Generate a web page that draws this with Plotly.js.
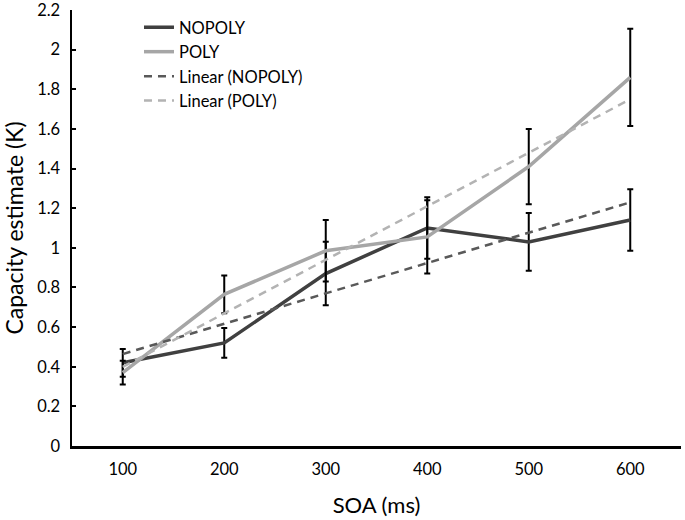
<!DOCTYPE html>
<html>
<head>
<meta charset="utf-8">
<script src="https://cdn.plot.ly/plotly-3.0.1.min.js"></script>
<style>html,body{margin:0;padding:0;background:#fff;}#chart{width:685px;height:520px;}</style>
</head>
<body>
<div id="chart"></div>
<script>
const categories = ['100', '200', '300', '400', '500', '600'];
const nopoly = [0.42, 0.52, 0.87, 1.10, 1.03, 1.14];
const nopolyErr = [0.07, 0.075, 0.16, 0.155, 0.146, 0.155];
const poly = [0.37, 0.765, 0.985, 1.055, 1.41, 1.86];
const polyErr = [0.06, 0.095, 0.155, 0.185, 0.19, 0.245];
const yTicks = [0, 0.2, 0.4, 0.6, 0.8, 1, 1.2, 1.4, 1.6, 1.8, 2, 2.2];
const yTickText = ['0', '0.2', '0.4', '0.6', '0.8', '1', '1.2', '1.4', '1.6', '1.8', '2', '2.2'];

// Least-squares linear trend (as in Excel), using x = 1..n
function linearTrend(vals) {
  const n = vals.length;
  const xs = vals.map((_, i) => i + 1);
  const mx = xs.reduce((a, b) => a + b, 0) / n;
  const my = vals.reduce((a, b) => a + b, 0) / n;
  let sxy = 0, sxx = 0;
  for (let i = 0; i < n; i++) { sxy += (xs[i] - mx) * (vals[i] - my); sxx += (xs[i] - mx) ** 2; }
  const b = sxy / sxx, a = my - b * mx;
  return xs.map(x => a + b * x);
}

const FONT = 'Lato, "Open Sans", sans-serif';
const traces = [
  {
    x: categories, y: nopoly, name: 'NOPOLY', mode: 'lines',
    line: {color: '#404040', width: 3.5},
    error_y: {type: 'data', array: nopolyErr, visible: true, color: '#000', thickness: 2, width: 3}
  },
  {
    x: categories, y: poly, name: 'POLY', mode: 'lines',
    line: {color: '#a6a6a6', width: 3.5},
    error_y: {type: 'data', array: polyErr, visible: true, color: '#000', thickness: 2, width: 3}
  },
  {
    x: categories, y: linearTrend(nopoly), name: 'Linear (NOPOLY)', mode: 'lines',
    line: {color: '#595959', width: 2.5, dash: '8px,6px'}
  },
  {
    x: categories, y: linearTrend(poly), name: 'Linear (POLY)', mode: 'lines',
    line: {color: '#b3b3b3', width: 2.5, dash: '8px,6px'}
  }
];

const layout = {
  width: 685, height: 520,
  margin: {l: 72, r: 4, t: 10, b: 74},
  paper_bgcolor: '#fff', plot_bgcolor: '#fff',
  font: {family: FONT, size: 16.5, color: '#000'},
  showlegend: true,
  legend: {x: 0.11, y: 1.0, xanchor: 'left', yanchor: 'top', bgcolor: 'rgba(0,0,0,0)',
           font: {family: FONT, size: 16.5, color: '#000'}, tracegroupgap: 0, itemwidth: 30},
  xaxis: {
    type: 'category', range: [-0.5, 5.5],
    showline: true, linecolor: '#000', linewidth: 2.5,
    showgrid: false, zeroline: false, ticks: '', ticklabelstandoff: 7,
    tickfont: {family: FONT, size: 16.5, color: '#000'},
    title: {text: 'SOA (ms)', font: {family: FONT, size: 22, color: '#000'}, standoff: 20}
  },
  yaxis: {
    range: [0, 2.2], tickvals: yTicks, ticktext: yTickText,
    showline: true, linecolor: '#000', linewidth: 2.5,
    showgrid: false, zeroline: false, ticks: 'inside', ticklen: 4, tickwidth: 2, tickcolor: '#000',
    ticklabelstandoff: 6, ticklabeloverflow: 'allow',
    tickfont: {family: FONT, size: 16.5, color: '#000'},
    title: {text: 'Capacity estimate (K)', font: {family: FONT, size: 23, color: '#000'}, standoff: 12}
  }
};

Plotly.newPlot('chart', traces, layout, {displayModeBar: false, staticPlot: true});
</script>
</body>
</html>
